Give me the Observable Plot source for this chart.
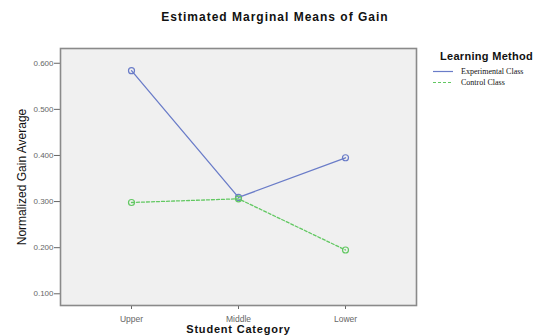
<!DOCTYPE html>
<html>
<head>
<meta charset="utf-8">
<script src="https://cdn.jsdelivr.net/npm/d3@7"></script>
<script src="https://cdn.jsdelivr.net/npm/@observablehq/plot@0.6"></script>
<style>
  html, body { margin: 0; padding: 0; background: #fff; }
  #wrap { position: relative; width: 539px; height: 336px; overflow: hidden; font-family: "Liberation Sans", Arial, sans-serif; }
  #title { position: absolute; left: 0; width: 550px; top: 10px; text-align: center; font-weight: bold; font-size: 12px; letter-spacing: 1px; color: #111; }
  #legend { position: absolute; left: 433px; top: 50px; width: 106px; }
  #legend .head { font-weight: bold; font-size: 11px; letter-spacing: 0.3px; margin-left: 7px; color: #111; white-space: nowrap; }
  #legend .row { display: flex; align-items: center; height: 11px; font-family: "Liberation Serif", "Times New Roman", serif; font-size: 8px; color: #111; white-space: nowrap; }
  #legend .row svg { margin-right: 8px; }
  #chart { position: absolute; left: 0; top: 0; }
</style>
</head>
<body>
<div id="wrap">
  <div id="chart"></div>
  <div id="title">Estimated Marginal Means of Gain</div>
  <div id="legend"></div>
</div>
<script>
const categories = ["Upper", "Middle", "Lower"];
const seriesNames = ["Experimental Class", "Control Class"];
const experimental = [0.584, 0.309, 0.395];
const control = [0.298, 0.306, 0.195];
const yTicks = [0.1, 0.2, 0.3, 0.4, 0.5, 0.6];

const colors = {"Experimental Class": "#6a7cc8", "Control Class": "#62c862"};
const dashes = {"Experimental Class": null, "Control Class": "3,2"};

const data = [];
categories.forEach((c, i) => {
  data.push({cat: c, series: seriesNames[0], value: experimental[i]});
  data.push({cat: c, series: seriesNames[1], value: control[i]});
});

const marks = [
  Plot.frame({fill: "#f0f0f0", stroke: "none"}),
  Plot.axisY({
    ticks: yTicks, tickFormat: d3.format(".3f"), tickSize: 6, tickPadding: 1,
    fontSize: 8, color: "#666", label: "Normalized Gain Average", labelAnchor: "center",
    labelOffset: 43, labelArrow: "none"
  }),
  Plot.axisX({
    tickSize: 4, tickPadding: 6, fontSize: 8.5, color: "#666",
    label: "Student Category", labelAnchor: "center", labelOffset: 27, labelArrow: "none"
  })
];
seriesNames.forEach(s => {
  const d = data.filter(r => r.series === s);
  marks.push(Plot.line(d, {x: "cat", y: "value", stroke: colors[s], strokeWidth: 1.3, strokeDasharray: dashes[s]}));
  marks.push(Plot.dot(d, {x: "cat", y: "value", stroke: colors[s], r: 3, strokeWidth: 1.2, fill: "none"}));
});
marks.push(Plot.frame({stroke: "#8a8a8a", strokeWidth: 1.6}));

const chart = Plot.plot({
  width: 539, height: 336,
  marginLeft: 60, marginRight: 123, marginTop: 48, marginBottom: 31,
  style: {fontFamily: "Liberation Sans, Arial, sans-serif", background: "transparent", overflow: "visible"},
  x: {type: "point", domain: categories, padding: 0.65},
  y: {domain: [0.0746, 0.632]},
  marks
});
chart.querySelectorAll("[aria-label='y-axis label'] text, [aria-label='x-axis label'] text").forEach(t => {
  t.setAttribute("fill", "#111");
});
const yl = chart.querySelector("[aria-label='y-axis label'] text");
if (yl) { yl.setAttribute("font-size", "12"); }
const xl = chart.querySelector("[aria-label='x-axis label'] text");
if (xl) { xl.setAttribute("font-size", "11"); xl.setAttribute("font-weight", "bold"); xl.setAttribute("letter-spacing", "0.8"); }
document.getElementById("chart").appendChild(chart);

const legend = document.getElementById("legend");
const head = document.createElement("div");
head.className = "head";
head.textContent = "Learning Method";
head.style.marginBottom = "4px";
legend.appendChild(head);
seriesNames.forEach(s => {
  const row = document.createElement("div");
  row.className = "row";
  const sw = d3.create("svg").attr("width", 20).attr("height", 9);
  sw.append("line").attr("x1", 0).attr("x2", 20).attr("y1", 4.5).attr("y2", 4.5)
    .attr("stroke", colors[s]).attr("stroke-width", 1.2).attr("stroke-dasharray", dashes[s]);
  row.appendChild(sw.node());
  const span = document.createElement("span");
  span.textContent = s;
  row.appendChild(span);
  legend.appendChild(row);
});
</script>
</body>
</html>
